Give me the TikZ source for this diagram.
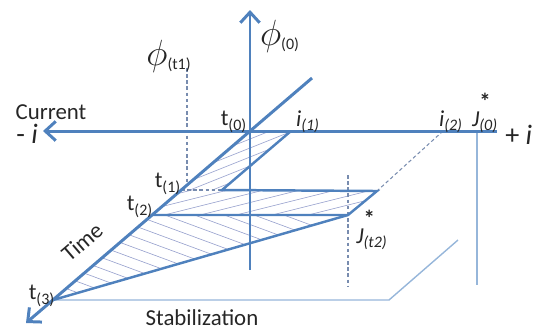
\documentclass[tikz,border=0pt]{standalone}
\usepackage{fontspec}
\setmainfont{Carlito}
\usepackage{xcolor}
\usetikzlibrary{arrows.meta}

\definecolor{axblue}{RGB}{79,129,189}
\definecolor{paleblue}{RGB}{150,182,218}
\definecolor{hatchcol}{RGB}{150,160,205}
\definecolor{guidecol}{RGB}{120,140,175}

\newcommand{\bigphi}{{\fontsize{20}{20}\selectfont$\phi$}}

\begin{document}
\begin{tikzpicture}[x=0.02cm, y=-0.02cm,
  axis/.style={draw=axblue, line width=1.7pt},
  arrow/.style={-{Straight Barb[length=6pt, width=11pt]}},
  edge/.style={draw=axblue, line width=1.4pt, line join=miter},
  thin/.style={draw=axblue, line width=0.6pt},
  pale/.style={draw=paleblue, line width=0.8pt},
  guide/.style={draw=guidecol, line width=0.6pt, dash pattern=on 2pt off 1.5pt},
  hatch/.style={draw=hatchcol, line width=0.35pt},
  lbl/.style={font=\fontsize{13}{14}\selectfont, inner sep=0pt, text=black!85},
  big/.style={font=\fontsize{16}{18}\selectfont, inner sep=0pt, text=black!85}
]
\useasboundingbox (0,0) rectangle (534,329);

\coordinate (org) at (250,131);
\coordinate (phitop) at (250,10);
\coordinate (ineg) at (43,131);
\coordinate (ipos) at (497,131);
\coordinate (ttop) at (312,78);
\coordinate (ttip) at (26,323);
\coordinate (t1) at (181,190);
\coordinate (t2) at (152,215);
\coordinate (t3) at (53,300);
\coordinate (i1) at (291,131);
\coordinate (i2) at (443,131);
\coordinate (j0) at (477,131);
\coordinate (k1) at (222,190);
\coordinate (r1) at (377,191);
\coordinate (js) at (348,215);
\coordinate (s2) at (389,300);
\coordinate (s3) at (458,240);

\begin{scope}
  \clip (org) -- (i1) -- (k1) -- (t1) -- cycle;
  \foreach \k in {0,...,22} \draw[hatch] (120,128+\k*9) -- ++(300,-120);
\end{scope}
\begin{scope}
  \clip (t1) -- (k1) -- (r1) -- (js) -- (t2) -- cycle;
  \foreach \k in {0,...,20} \draw[hatch] (120,190+\k*9) -- ++(400,-100);
\end{scope}
\begin{scope}
  \clip (t2) -- (js) -- (t3) -- cycle;
  \foreach \k in {0,...,24} \draw[hatch] (0,110+\k*11) -- ++(400,148);
\end{scope}

\draw[thin] (org) -- (250,270);
\draw[pale] (j0) -- (477,285);
\draw[pale] (t3) -- (s2) -- (s3);
\draw[guide] (187,68) -- (187,185);
\draw[guide] (348,175) -- (348,287);
\draw[guide] (t1) -- (k1);
\draw[guide] (i2) -- (r1);

\draw[edge] (i1) -- (k1) -- (r1) -- (js) -- (t2);
\draw[edge] (js) -- (t3);

\draw[axis, arrow] (ipos) -- (ineg);
\draw[axis, arrow] (org) -- (phitop);
\draw[axis, arrow] (ttop) -- (ttip);

\node[lbl] (phit1) at (169,56) {\bigphi\textsubscript{(t1)}};
\node[lbl] (phi0) at (280,36) {\bigphi\textsubscript{(0)}};
\node[lbl] (cur) at (51,112) {Current};
\node[big] (neg) at (27,134) {- \textit{i}};
\node[big, anchor=west] (pos) at (505,135) {+ \textit{i}};
\node[lbl] (lt0) at (234,122) {t\textsubscript{(0)}};
\node[lbl] (lt1) at (168,184) {t\textsubscript{(1)}};
\node[lbl] (lt2) at (140,207) {t\textsubscript{(2)}};
\node[lbl] (lt3) at (42,296) {t\textsubscript{(3)}};
\node[lbl] (li1) at (308,122) {\textit{i}\textsubscript{\textit{(1)}}};
\node[lbl] (li2) at (451,122) {\textit{i}\textsubscript{\textit{(2)}}};
\node[lbl] (lj0) at (485,113) {\textit{J}\rlap{\raisebox{1.5ex}{\textbf{*}}}\textsubscript{\textit{(0)}}};
\node[lbl] (ljs) at (372,230) {\textit{J}\rlap{\raisebox{1.5ex}{\textbf{*}}}\textsubscript{\textit{(t2)}}};
\node[lbl, rotate=40.6] (time) at (82,242) {Time};
\node[lbl] (stab) at (202,318) {Stabilization};
\end{tikzpicture}
\end{document}
